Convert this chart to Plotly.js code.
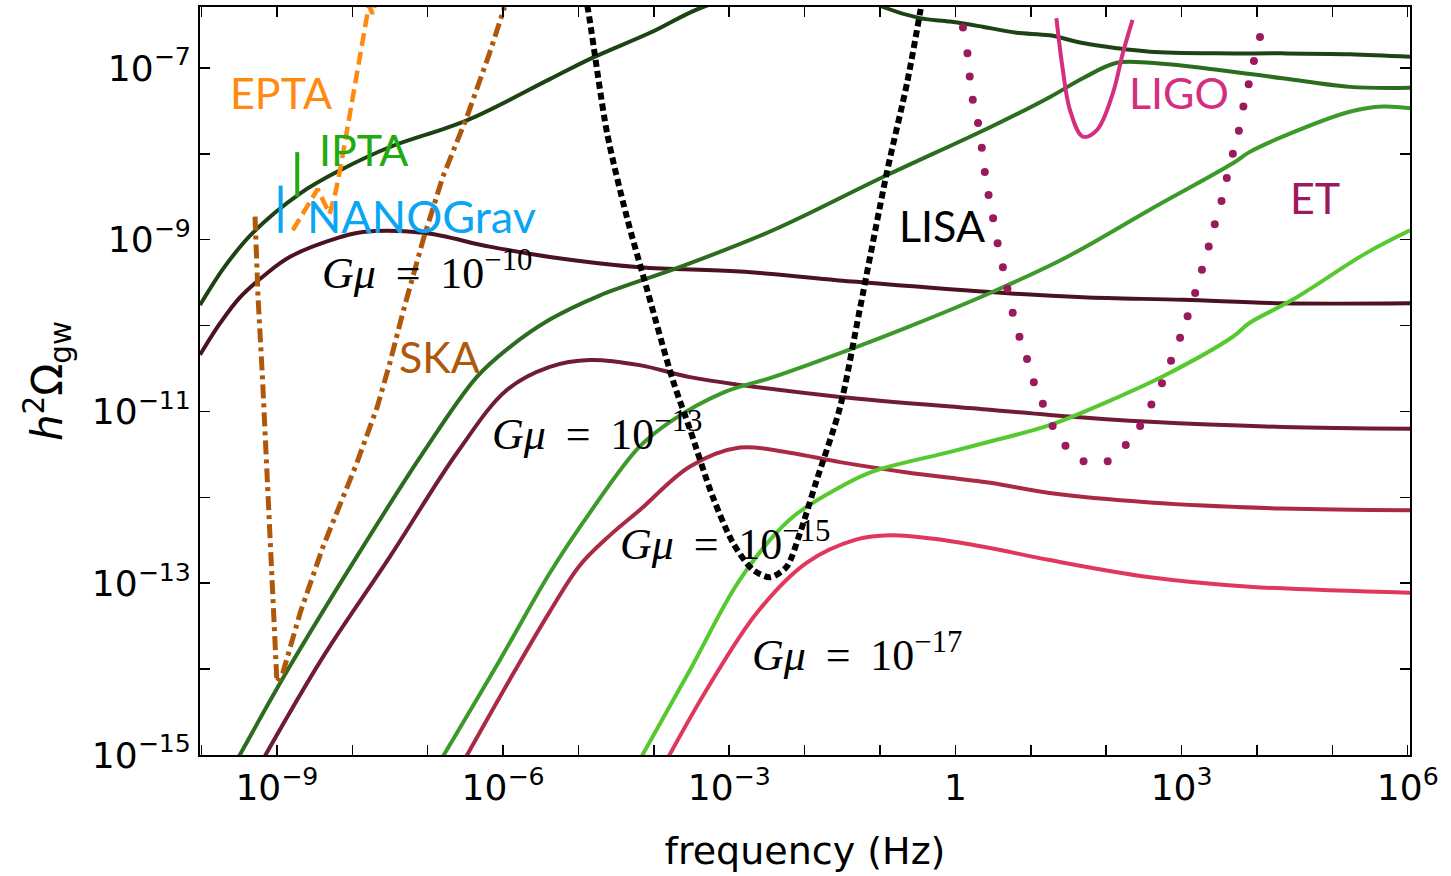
<!DOCTYPE html>
<html>
<head>
<meta charset="utf-8">
<script src="https://cdn.plot.ly/plotly-3.0.1.min.js"></script>
<style>
  html, body { margin: 0; padding: 0; background: #fff; }
  #chart { width: 1451px; height: 876px; }
</style>
</head>
<body>
<div id="chart"></div>
<script>
// All curves are stored as log10(frequency / Hz) and log10(h^2 Omega_gw).

// Cosmic-string spectra, model A (green family)
const specA10_logf = [-10.02,-9.69,-9.32,-8.69,-8.16,-7.50,-6.48,-5.38,-4.81,-4.05,-3.35,-2.59,-1.80,-1.14,-0.96,-0.47,-0.07,0.36,0.81,1.25,1.69,2.14,2.58,3.47,4.34,5.23,6.03];
const specA10_logO = [-9.76,-9.31,-8.92,-8.46,-8.19,-7.92,-7.61,-7.13,-6.88,-6.59,-6.29,-6.12,-6.09,-6.21,-6.29,-6.42,-6.46,-6.52,-6.59,-6.62,-6.71,-6.77,-6.81,-6.83,-6.83,-6.84,-6.87];
const specA13_logf = [-9.53,-8.83,-7.94,-7.06,-6.35,-5.91,-5.38,-4.72,-3.66,-2.42,-0.96,0.46,1.25,1.69,2.14,2.58,3.47,4.34,5.23,6.03];
const specA13_logO = [-15.06,-13.97,-12.69,-11.48,-10.60,-10.25,-9.93,-9.65,-9.32,-8.89,-8.27,-7.69,-7.34,-7.12,-6.94,-6.94,-7.02,-7.12,-7.22,-7.23];
const specA15_logf = [-6.80,-6.04,-5.38,-4.85,-4.19,-3.75,-3.08,-2.42,-1.53,-0.64,0.46,1.48,2.58,3.68,3.90,4.34,5.23,5.67,6.03];
const specA15_logO = [-15.02,-13.89,-12.88,-12.18,-11.41,-11.10,-10.78,-10.60,-10.32,-10.02,-9.62,-9.20,-8.65,-8.11,-7.98,-7.80,-7.51,-7.45,-7.47];
const specA17_logf = [-4.19,-3.52,-2.86,-2.20,-1.53,-1.10,-0.07,0.46,1.25,2.14,2.80,3.68,3.90,4.47,5.46,6.03];
const specA17_logO = [-15.06,-14.01,-12.96,-12.26,-11.88,-11.70,-11.47,-11.35,-11.16,-10.84,-10.57,-10.13,-9.97,-9.70,-9.15,-8.89];

// Cosmic-string spectra, model B (red family)
const specB10_logf = [-10.02,-9.76,-9.49,-9.16,-8.83,-8.16,-7.86,-7.06,-6.18,-5.38,-4.19,-2.86,-1.31,0.46,1.69,3.02,4.34,6.03];
const specB10_logO = [-10.34,-9.98,-9.67,-9.41,-9.20,-8.97,-8.91,-8.92,-9.08,-9.20,-9.32,-9.37,-9.49,-9.61,-9.67,-9.70,-9.74,-9.74];
const specB13_logf = [-9.19,-8.39,-7.50,-6.61,-5.95,-5.38,-4.85,-4.19,-3.52,-2.86,-1.53,0.46,1.25,2.58,4.34,6.03];
const specB13_logO = [-15.06,-13.86,-12.69,-11.48,-10.75,-10.48,-10.40,-10.46,-10.60,-10.69,-10.83,-10.98,-11.04,-11.12,-11.18,-11.20];
const specB15_logf = [-6.49,-5.91,-5.38,-4.98,-4.58,-4.19,-3.52,-2.86,-2.20,-1.53,-0.64,0.46,1.25,2.58,4.34,6.03];
const specB15_logO = [-15.02,-14.12,-13.33,-12.79,-12.44,-12.15,-11.64,-11.42,-11.48,-11.59,-11.71,-11.83,-11.95,-12.06,-12.13,-12.15];
const specB17_logf = [-3.83,-3.30,-2.63,-1.97,-1.31,-0.87,-0.21,0.46,1.25,2.58,3.90,6.03];
const specB17_logO = [-15.06,-14.24,-13.34,-12.76,-12.49,-12.44,-12.49,-12.59,-12.73,-12.93,-13.04,-13.11];

// Detector sensitivity curves
const lisa_logf = [-4.92,-4.88,-4.62,-4.36,-4.09,-3.75,-3.52,-3.22,-2.95,-2.69,-2.46,-2.24,-2.06,-1.84,-1.53,-1.27,-0.91,-0.64,-0.47,-0.43];
const lisa_logO = [-6.15,-6.29,-7.76,-8.73,-9.58,-10.63,-11.21,-11.99,-12.53,-12.84,-12.93,-12.81,-12.41,-11.80,-10.95,-9.82,-8.22,-7.17,-6.36,-6.15];
const ska_logf = [-9.29,-9.25,-9.19,-9.12,-9.05,-9.00,-8.92,-8.69,-8.39,-7.94,-7.67,-7.50,-7.33,-7.06,-6.80,-6.48,-6.18,-5.98];
const ska_logO = [-8.73,-9.67,-10.63,-11.99,-13.16,-14.15,-14.04,-13.34,-12.58,-11.60,-10.95,-10.43,-9.85,-9.00,-8.27,-7.57,-6.83,-6.29];
const epta_logf = [-8.79,-8.46,-8.30,-8.22,-8.15,-8.08,-8.01,-7.93,-7.86,-7.81,-7.78,-7.73,-7.69];
const epta_logO = [-8.89,-8.41,-8.70,-8.44,-8.13,-7.78,-7.37,-6.97,-6.67,-6.42,-6.27,-6.37,-6.23];
const ligo_logf = [1.34,1.42,1.52,1.69,1.88,2.09,2.22,2.35];
const ligo_logO = [-6.42,-6.99,-7.49,-7.80,-7.72,-7.29,-6.83,-6.44];
const et_logf = [0.10,0.16,0.19,0.23,0.30,0.35,0.39,0.44,0.50,0.56,0.63,0.69,0.76,0.85,0.95,1.04,1.16,1.29,1.46,1.70,2.02,2.26,2.45,2.60,2.74,2.86,2.98,3.08,3.18,3.27,3.36,3.44,3.53,3.60,3.68,3.76,3.82,3.89,3.96,4.04];
const et_logO = [-6.53,-6.83,-7.10,-7.37,-7.64,-7.93,-8.21,-8.48,-8.75,-9.04,-9.32,-9.57,-9.85,-10.13,-10.39,-10.66,-10.91,-11.17,-11.40,-11.58,-11.58,-11.39,-11.17,-10.92,-10.67,-10.41,-10.14,-9.89,-9.62,-9.35,-9.08,-8.82,-8.55,-8.28,-8.00,-7.73,-7.45,-7.19,-6.92,-6.64];
// PTA limits drawn as short vertical bars
const nanograv_logf = [-8.95,-8.95];
const nanograv_logO = [-8.37,-8.92];
const ipta_logf = [-8.73,-8.73];
const ipta_logO = [-7.98,-8.50];

// Axis ticks: labelled decades and the unlabelled decades in between
const xTickExp = [-9,-6,-3,0,3,6];
const xTickText = ['10<sup>−9</sup>','10<sup>−6</sup>','10<sup>−3</sup>','1','10<sup>3</sup>','10<sup>6</sup>'];
const xMinorExp = [-10,-8,-7,-5,-4,-2,-1,1,2,4,5];
const yTickExp = [-15,-13,-11,-9,-7];
const yTickText = ['10<sup>−15</sup>','10<sup>−13</sup>','10<sup>−11</sup>','10<sup>−9</sup>','10<sup>−7</sup>'];
const yMinorExp = [-14,-12,-10,-8];

const pow10 = a => a.map(v => Math.pow(10, v));

function curve(lf, lo, color, width, extra) {
  return Object.assign({
    type: 'scatter', mode: 'lines',
    x: pow10(lf), y: pow10(lo),
    line: { color: color, width: width, shape: 'spline', smoothing: 1.0 },
    hoverinfo: 'skip', showlegend: false
  }, extra || {});
}

const traces = [
  curve(specA10_logf, specA10_logO, '#1d4314', 4),
  curve(specB10_logf, specB10_logO, '#4b1222', 4),
  curve(specA13_logf, specA13_logO, '#2b6c1f', 4),
  curve(specB13_logf, specB13_logO, '#6f1c34', 4),
  curve(specA15_logf, specA15_logO, '#3c9a2b', 4),
  curve(specB15_logf, specB15_logO, '#aa2a45', 4),
  curve(specA17_logf, specA17_logO, '#56c92f', 4),
  curve(specB17_logf, specB17_logO, '#e2375d', 4),
  curve(ska_logf, ska_logO, '#b0580a', 5, { line: { color: '#b0580a', width: 5, dash: '14px,5px,4px,5px' } }),
  curve(epta_logf, epta_logO, '#ff8a10', 4, { line: { color: '#ff8a10', width: 4.5, dash: '13px,6px' } }),
  curve(lisa_logf, lisa_logO, '#000000', 6, { line: { color: '#000000', width: 6, dash: '7px,4px', shape: 'spline', smoothing: 0.8 } }),
  curve(ligo_logf, ligo_logO, '#d42f7f', 4),
  {
    type: 'scatter', mode: 'markers', x: pow10(et_logf), y: pow10(et_logO),
    marker: { color: '#9b1a5e', size: 8, line: { width: 0 } },
    hoverinfo: 'skip', showlegend: false
  },
  curve(nanograv_logf, nanograv_logO, '#0aa5f5', 4, { line: { color: '#0aa5f5', width: 4 } }),
  curve(ipta_logf, ipta_logO, '#22aa10', 4, { line: { color: '#22aa10', width: 4 } })
];

const labelFont = (c, s) => ({ family: 'Lato, "Open Sans", sans-serif', size: s || 43, color: c });
const mathFont = { family: '"Liberation Serif", "DejaVu Serif", serif', size: 44, color: '#000' };
const gap = '\u00a0\u2009';

function label(text, lx, ly, font) {
  return { text: text, x: lx, y: ly, xref: 'x', yref: 'y', xanchor: 'left', yanchor: 'middle',
           showarrow: false, font: font };
}
function gmu(exp) {
  return '<i>Gμ</i>' + gap + '=' + gap + '10<sup>−' + exp + '</sup>';
}

const annotations = [
  label('EPTA', -9.65, -7.29, labelFont('#ff8a10')),
  label('IPTA', -8.47, -7.95, labelFont('#22aa10')),
  label('NANOGrav', -8.63, -8.72, labelFont('#0aa5f5', 45)),
  label('SKA', -7.41, -10.36, labelFont('#b0580a')),
  label('LISA', -0.78, -8.84, labelFont('#000000')),
  label('LIGO', 2.27, -7.29, labelFont('#d42f7f')),
  label('ET', 4.41, -8.51, labelFont('#9b1a5e')),
  label(gmu(10), -8.43, -9.36, mathFont),
  label(gmu(13), -6.18, -11.23, mathFont),
  label(gmu(15), -4.48, -12.51, mathFont),
  label(gmu(17), -2.73, -13.81, mathFont)
];

const axisCommon = {
  type: 'log', showgrid: false, zeroline: false,
  showline: true, linecolor: '#000', linewidth: 2, mirror: 'ticks',
  ticks: 'inside', ticklen: 10, tickwidth: 1.5, tickcolor: '#000',
  tickmode: 'array',
  tickfont: { family: '"DejaVu Sans", sans-serif', size: 36, color: '#000' }
};

const layout = {
  width: 1451, height: 876,
  margin: { l: 200, r: 41, t: 7, b: 121 },
  paper_bgcolor: '#fff', plot_bgcolor: '#fff',
  showlegend: false,
  xaxis: Object.assign({}, axisCommon, {
    range: [-10.02, 6.03],
    tickvals: pow10(xTickExp), ticktext: xTickText,
    minor: { tickmode: 'array', tickvals: pow10(xMinorExp), ticks: 'inside', ticklen: 10, tickwidth: 1.5, tickcolor: '#000', showgrid: false },
    title: { text: 'frequency (Hz)', font: { family: '"DejaVu Sans", sans-serif', size: 38, color: '#000' }, standoff: 30 }
  }),
  yaxis: Object.assign({}, axisCommon, {
    range: [-15, -6.29],
    tickvals: pow10(yTickExp), ticktext: yTickText,
    minor: { tickmode: 'array', tickvals: pow10(yMinorExp), ticks: 'inside', ticklen: 10, tickwidth: 1.5, tickcolor: '#000', showgrid: false },
    title: { text: '<i>h</i><sup>2</sup>Ω<sub>gw</sub>', font: { family: '"DejaVu Sans", sans-serif', size: 42, color: '#000' }, standoff: 16 }
  }),
  annotations: annotations
};

Plotly.newPlot('chart', traces, layout, { staticPlot: true, displayModeBar: false });
</script>
</body>
</html>
